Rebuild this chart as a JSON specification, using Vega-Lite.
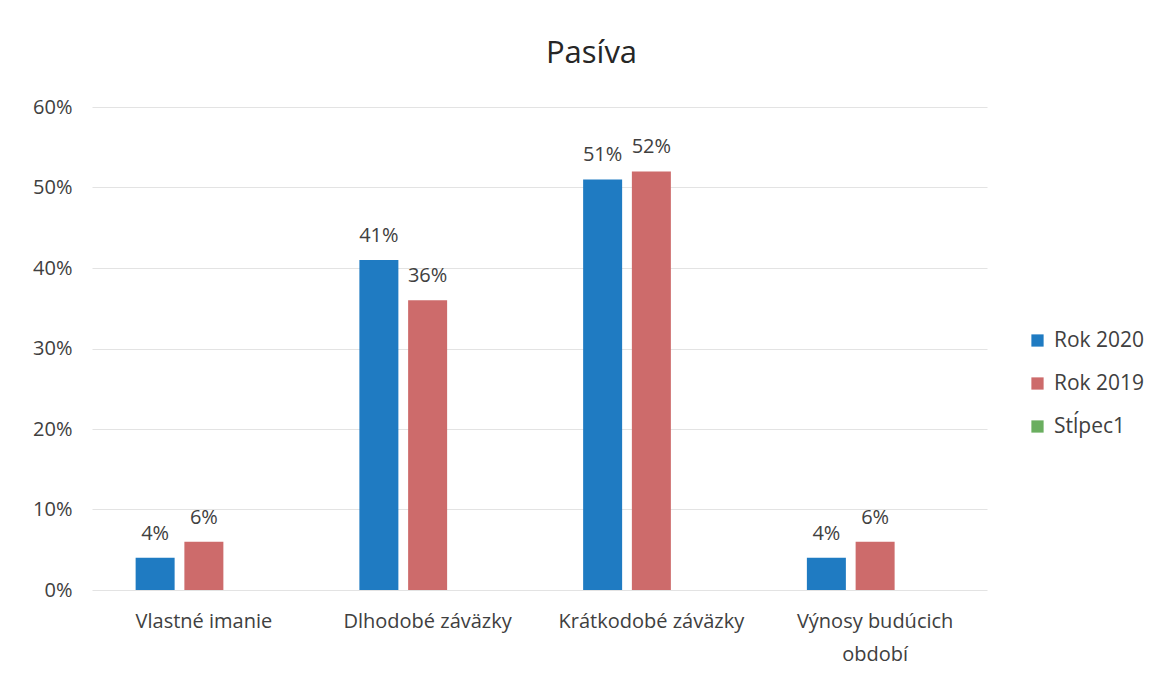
{
  "$schema": "https://vega.github.io/schema/vega-lite/v6.json",
  "autosize": {"type": "none"},
  "padding": {"left": 92, "top": 107, "right": 164, "bottom": 85},
  "width": 895,
  "height": 483,
  "background": "white",
  "title": {"text": "Pasíva", "fontSize": 31, "font": "Open Sans", "fontWeight": "normal", "color": "#262626", "anchor": "middle", "dx": 52, "offset": 27},
  "data": {"values": [
    {"kategoria": "Vlastné imanie", "rok": "Rok 2020", "podiel": 0.04},
    {"kategoria": "Vlastné imanie", "rok": "Rok 2019", "podiel": 0.06},
    {"kategoria": "Dlhodobé záväzky", "rok": "Rok 2020", "podiel": 0.41},
    {"kategoria": "Dlhodobé záväzky", "rok": "Rok 2019", "podiel": 0.36},
    {"kategoria": "Krátkodobé záväzky", "rok": "Rok 2020", "podiel": 0.51},
    {"kategoria": "Krátkodobé záväzky", "rok": "Rok 2019", "podiel": 0.52},
    {"kategoria": "Výnosy budúcich období", "rok": "Rok 2020", "podiel": 0.04},
    {"kategoria": "Výnosy budúcich období", "rok": "Rok 2019", "podiel": 0.06}
  ]},
  "encoding": {
    "x": {"field": "kategoria", "type": "nominal", "sort": null,
      "scale": {"paddingInner": 0.39, "paddingOuter": 0.195},
      "axis": {"title": null, "labelAngle": 0, "labelFontSize": 20, "labelFont": "Open Sans", "labelColor": "#404040", "labelPadding": 21, "labelLimit": 400, "ticks": false, "domain": false, "labelLineHeight": 33,
        "labelExpr": "datum.label == 'Výnosy budúcich období' ? ['Výnosy budúcich', 'období'] : datum.label"}},
    "xOffset": {"field": "rok", "type": "nominal", "scale": {"domain": ["Rok 2020", "Rok 2019", "Stĺpec1"], "paddingInner": 0.2}},
    "y": {"field": "podiel", "type": "quantitative",
      "scale": {"domain": [0, 0.6]},
      "axis": {"title": null, "format": ".0%", "values": [0, 0.1, 0.2, 0.3, 0.4, 0.5, 0.6], "labelOverlap": false, "labelFontSize": 20, "labelFont": "Open Sans", "labelColor": "#404040", "labelPadding": 20, "ticks": false, "domain": false, "gridColor": "#e3e3e3", "gridWidth": 1}}
  },
  "layer": [
    {"mark": {"type": "bar"},
      "encoding": {
        "color": {"field": "rok", "type": "nominal",
          "scale": {"domain": ["Rok 2020", "Rok 2019", "Stĺpec1"], "range": ["#1f7bc2", "#cd6b6b", "#6aae5f"]},
          "legend": {"title": null, "orient": "none", "legendX": 935, "legendY": 223, "symbolType": "square", "symbolSize": 150, "symbolStrokeWidth": 0, "labelFontSize": 21, "labelFont": "Open Sans", "labelColor": "#404040", "rowPadding": 21, "labelOffset": 6}}
      }},
    {"mark": {"type": "text", "dy": -14, "fontSize": 20, "font": "Open Sans", "color": "#404040", "baseline": "bottom"},
      "encoding": {"text": {"field": "podiel", "type": "quantitative", "format": ".0%"}}}
  ],
  "config": {"view": {"stroke": null}}
}
